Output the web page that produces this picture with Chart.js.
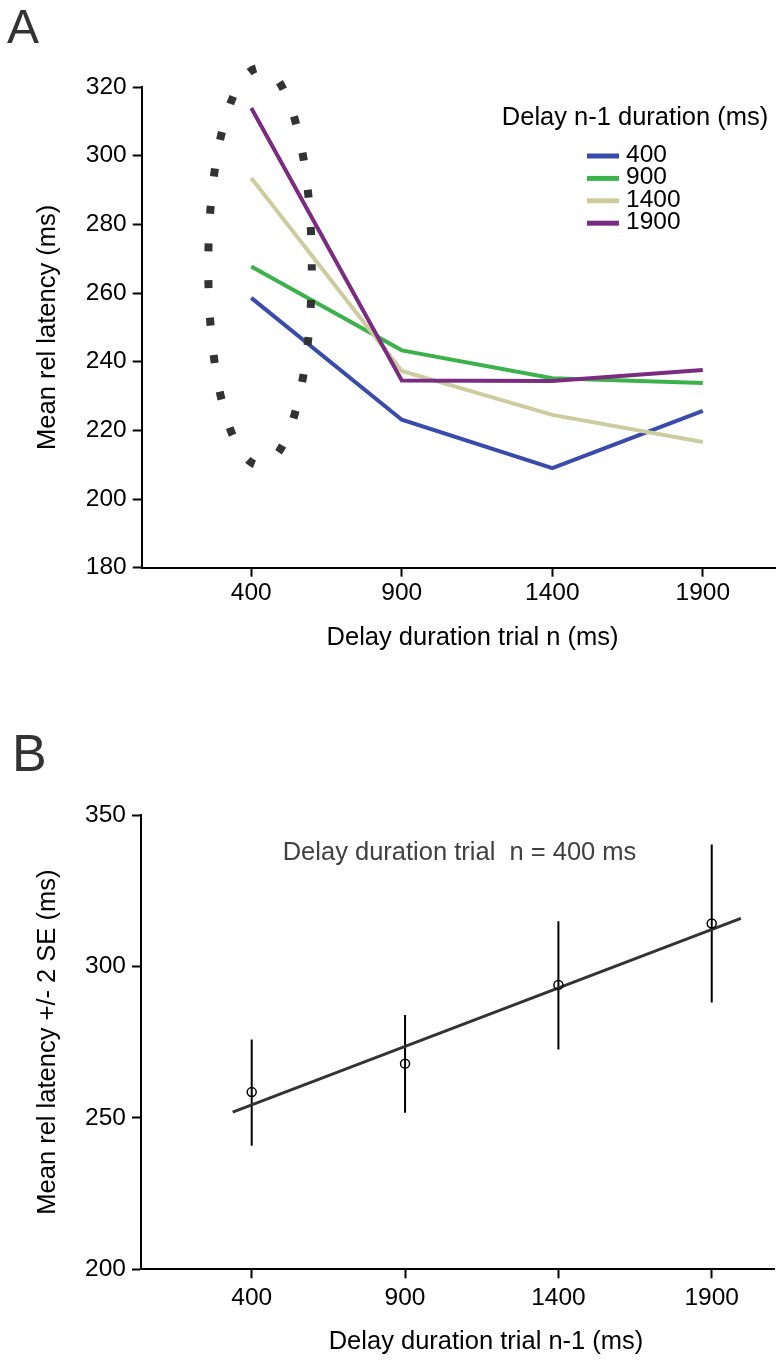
<!DOCTYPE html>
<html>
<head>
<meta charset="utf-8">
<script src="https://cdn.jsdelivr.net/npm/chart.js@4.4.1/dist/chart.umd.min.js"></script>
<style>
html, body { margin: 0; padding: 0; background: #fff; }
#wrap { position: relative; width: 783px; height: 1363px; }
canvas { position: absolute; left: 0; }
#chartA { top: 0; }
#chartB { top: 680px; }
</style>
</head>
<body>
<div id="wrap">
<canvas id="chartA" width="783" height="680"></canvas>
<canvas id="chartB" width="783" height="683"></canvas>
</div>
<script>
// ---- data: panel A (mean latency by delay n, one series per delay n-1)
var delays = [400, 900, 1400, 1900];
var prevDelayLabels = ['400', '900', '1400', '1900'];
var lat400 = [258.6, 223.1, 209.0, 225.7];
var lat900 = [267.7, 243.3, 235.2, 233.8];
var lat1400 = [293.5, 237.3, 224.5, 216.6];
var lat1900 = [313.9, 234.5, 234.4, 237.6];
var yTicksA = [180, 200, 220, 240, 260, 280, 300, 320];

// ---- data: panel B (delay n = 400 ms, mean +/- 2 SE by delay n-1)
var meanB = [258.5, 267.9, 293.9, 314.2];
var seLow = [240.8, 251.7, 272.6, 288.1];
var seHigh = [275.9, 284.0, 314.9, 340.3];
var fitX = [338, 1995];
var fitY = [251.9, 315.9];
var yTicksB = [200, 250, 300, 350];

var FONT = "'Liberation Sans', Arial, Helvetica, sans-serif";
Chart.defaults.font.family = FONT;
Chart.defaults.color = '#000';

var seriesColors = ['#3a4cab', '#3bb24a', '#cccc9f', '#7a2c80'];

function fixWidth(w) { return function (s) { s.width = w; }; }
function fixHeight(h) { return function (s) { s.height = h; }; }
function useTicks(list) {
    return function (s) { s.ticks = list.map(function (v) { return { value: v }; }); };
}
function points(xs, ys) {
    return xs.map(function (x, i) { return { x: x, y: ys[i] }; });
}

function axis(opts) {
    return {
        type: 'linear',
        min: opts.min,
        max: opts.max,
        afterBuildTicks: useTicks(opts.ticks),
        afterFit: opts.fit,
        border: { color: '#000', width: 2 },
        grid: { drawOnChartArea: false, tickLength: 9, tickColor: '#000', tickWidth: 2 },
        ticks: {
            color: '#000', font: { size: 24.5 }, padding: opts.pad,
            maxRotation: 0, autoSkip: false,
            callback: function (v) { return String(v); }
        },
        title: {
            display: !!opts.title, text: opts.title || '', color: '#000',
            font: { size: 25.5, lineHeight: 1 }, padding: opts.titlePad
        }
    };
}

// free text (panel letters, x-axis titles, notes)
function textPlugin(id, items) {
    return {
        id: id,
        afterDraw: function (chart) {
            var ctx = chart.ctx;
            ctx.save();
            items.forEach(function (t) {
                ctx.font = t.size + 'px ' + FONT;
                ctx.fillStyle = t.color;
                ctx.textAlign = t.align;
                ctx.textBaseline = t.baseline;
                ctx.fillText(t.text, t.x, t.y);
            });
            ctx.restore();
        }
    };
}

// legend for panel A, drawn inside the plot area
var legendA = {
    id: 'legendA',
    afterDatasetsDraw: function (chart) {
        var ctx = chart.ctx;
        ctx.save();
        ctx.fillStyle = '#000';
        ctx.textBaseline = 'middle';
        ctx.font = '25.5px ' + FONT;
        ctx.textAlign = 'center';
        ctx.fillText('Delay n-1 duration (ms)', 635, 118);
        ctx.font = '24.5px ' + FONT;
        ctx.textAlign = 'left';
        prevDelayLabels.forEach(function (lab, i) {
            var y = 156 + i * 22.4;
            ctx.strokeStyle = seriesColors[i];
            ctx.lineWidth = 5;
            ctx.beginPath();
            ctx.moveTo(587, y);
            ctx.lineTo(619, y);
            ctx.stroke();
            ctx.fillText(lab, 626, y - 1);
        });
        ctx.restore();
    }
};

// dotted ellipse around the delay n = 400 values
var ring = { cx: 429, cy: 267.7, rx: 172, ry: 57.9 };
var ringA = {
    id: 'ringA',
    afterDatasetsDraw: function (chart) {
        var xs = chart.scales.x, ys = chart.scales.y;
        var cx = xs.getPixelForValue(ring.cx), cy = ys.getPixelForValue(ring.cy);
        var rx = Math.abs(xs.getPixelForValue(ring.cx + ring.rx) - cx);
        var ry = Math.abs(ys.getPixelForValue(ring.cy + ring.ry) - cy);
        var ctx = chart.ctx;
        ctx.save();
        ctx.strokeStyle = '#333';
        ctx.lineWidth = 8;
        ctx.setLineDash([8, 29.3]);
        ctx.lineDashOffset = 4;
        ctx.beginPath();
        ctx.ellipse(cx, cy, rx, ry, 0, 0, Math.PI * 2);
        ctx.stroke();
        ctx.restore();
    }
};

var seriesA = [lat400, lat900, lat1400, lat1900];
var chartA = new Chart(document.getElementById('chartA'), {
    type: 'scatter',
    data: {
        datasets: seriesA.map(function (vals, i) {
            return {
                label: prevDelayLabels[i],
                data: points(delays, vals),
                showLine: true,
                borderColor: seriesColors[i],
                backgroundColor: seriesColors[i],
                borderWidth: 4,
                pointRadius: 0,
                tension: 0,
                order: 3 - i
            };
        })
    },
    options: {
        responsive: false,
        animation: false,
        layout: { padding: { top: 87, right: 7.3, left: 0, bottom: 0 } },
        plugins: { legend: { display: false }, tooltip: { enabled: false } },
        scales: {
            x: axis({ min: 36, max: 2142, ticks: delays, fit: fixHeight(680 - 567.7), pad: 2 }),
            y: axis({ min: 180, max: 320, ticks: yTicksA, fit: fixWidth(141.7), pad: 6,
                title: 'Mean rel latency (ms)', titlePad: { top: 35, bottom: 0 } })
        }
    },
    plugins: [legendA, ringA, textPlugin('textA', [
        { text: 'A', x: 7, y: 43, size: 48, color: '#333', align: 'left', baseline: 'alphabetic' },
        { text: 'Delay duration trial n (ms)', x: 472.5, y: 638, size: 25.5, color: '#000', align: 'center', baseline: 'middle' }
    ])]
});

var errDatasets = delays.map(function (x, i) {
    return {
        data: [{ x: x, y: seLow[i] }, { x: x, y: seHigh[i] }],
        showLine: true,
        borderColor: '#000',
        borderWidth: 2,
        pointRadius: 0,
        order: 2
    };
});

var chartB = new Chart(document.getElementById('chartB'), {
    type: 'scatter',
    data: {
        datasets: [
            {
                data: points(delays, meanB),
                pointStyle: 'circle',
                pointRadius: 4.5,
                borderColor: '#000',
                borderWidth: 1.5,
                backgroundColor: 'rgba(0,0,0,0)',
                order: 0
            },
            {
                data: points(fitX, fitY),
                showLine: true,
                borderColor: '#333',
                borderWidth: 3,
                pointRadius: 0,
                order: 1
            }
        ].concat(errDatasets)
    },
    options: {
        responsive: false,
        animation: false,
        layout: { padding: { top: 135, right: 9, left: 0, bottom: 0 } },
        plugins: { legend: { display: false }, tooltip: { enabled: false } },
        scales: {
            x: axis({ min: 39, max: 2103, ticks: delays, fit: fixHeight(683 - 589.3), pad: 5.4 }),
            y: axis({ min: 200, max: 350, ticks: yTicksB, fit: fixWidth(141), pad: 6,
                title: 'Mean rel latency +/- 2 SE (ms)', titlePad: { top: 35, bottom: 0 } })
        }
    },
    plugins: [textPlugin('textB', [
        { text: 'B', x: 12, y: 91, size: 52, color: '#333', align: 'left', baseline: 'alphabetic' },
        { text: 'Delay duration trial n-1 (ms)', x: 486, y: 662, size: 25.5, color: '#000', align: 'center', baseline: 'middle' },
        { text: 'Delay duration trial  n = 400 ms', x: 282.7, y: 173, size: 25.5, color: '#404040', align: 'left', baseline: 'middle' }
    ])]
});
</script>
</body>
</html>
